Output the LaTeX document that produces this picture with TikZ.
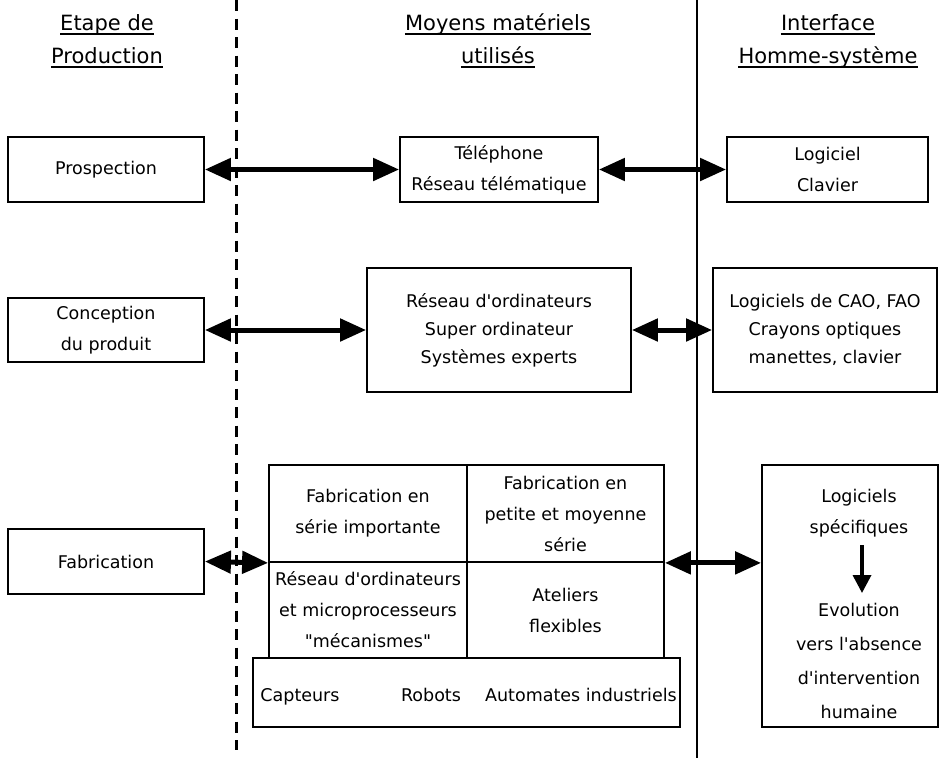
\documentclass[tikz,border=0pt]{standalone}
\usepackage{fontspec}
\setmainfont{DejaVu Sans}[Ligatures=TeXOff]
\usetikzlibrary{arrows.meta}
\newcommand\bfnt{\fontsize{17.5}{31}\selectfont}
\newcommand\rfnt{\fontsize{17.5}{34}\selectfont}
\newcommand\hfnt{\fontsize{21}{25}\selectfont}
\begin{document}
\begin{tikzpicture}[x=1pt,y=-1pt,
  box/.style={draw,line width=1.8pt,inner sep=0pt,align=center,font=\bfnt},
  txt/.style={inner sep=0pt,align=center,font=\bfnt},
  hdr/.style={inner sep=0pt,anchor=base,font=\hfnt},
  uline/.style={line width=2pt},
  link/.style={line width=5pt,{Triangle[length=26pt,width=22pt]}-{Triangle[length=26pt,width=22pt]}},
  down/.style={line width=3.5pt,-{Triangle[length=18pt,width=18pt]}},
  sep1/.style={line width=3pt,dash pattern=on 11pt off 7.5pt},
  sep2/.style={line width=1.3pt},
]
\useasboundingbox (0,0) rectangle (942,758);

% column separators
\coordinate (d1) at (236,0);
\coordinate (d2) at (236,750);
\coordinate (s1) at (697,0);
\coordinate (s2) at (697,758);
\draw[sep1] (d1) -- (d2);
\draw[sep2] (s1) -- (s2);

% headers
\node[hdr] (h1a) at (107,30) {Etape de};
\node[hdr] (h1b) at (107,63) {Production};
\node[hdr] (h2a) at (498,30) {Moyens matériels};
\node[hdr] (h2b) at (498,63) {utilisés};
\node[hdr] (h3a) at (828,30) {Interface};
\node[hdr] (h3b) at (828,63) {Homme-système};
\foreach \h in {h1a,h1b,h2a,h2b,h3a,h3b}
  \draw[uline] ([yshift=-4pt]\h.base west) -- ([yshift=-4pt]\h.base east);

% row 1
\node[box,minimum width=196pt,minimum height=65pt] (pros) at (106,169.5) {Prospection};
\node[box,minimum width=198pt,minimum height=65pt] (tel) at (499,169.5) {Téléphone\\Réseau télématique};
\node[box,minimum width=201pt,minimum height=65pt] (logi) at (827.5,169.5) {Logiciel\\Clavier};
\draw[link] (pros.east) -- (tel.west);
\draw[link] (tel.east) -- (logi.west);

% row 2
\node[box,minimum width=196pt,minimum height=64pt] (conc) at (106,330) {Conception\\du produit};
\node[box,minimum width=264pt,minimum height=124pt,font=\fontsize{17.5}{28}\selectfont] (res) at (499,330) {Réseau d'ordinateurs\\Super ordinateur\\Systèmes experts};
\node[box,minimum width=224pt,minimum height=124pt,font=\fontsize{17.5}{28}\selectfont] (cao) at (825,330) {Logiciels de CAO, FAO\\Crayons optiques\\manettes, clavier};
\draw[link] (conc.east) -- (res.west);
\draw[link] (res.east) -- (cao.west);

% row 3
\node[box,minimum width=196pt,minimum height=65pt] (fab) at (106,561.5) {Fabrication};
\node[box,minimum width=198pt,minimum height=97pt] (c1) at (368,513.5) {Fabrication en\\série importante};
\node[box,minimum width=197pt,minimum height=97pt] (c2) at (565.5,513.5) {Fabrication en\\petite et moyenne\\série};
\node[box,minimum width=198pt,minimum height=96pt] (c3) at (368,610) {Réseau d'ordinateurs\\et microprocesseurs\\"mécanismes"};
\node[box,minimum width=197pt,minimum height=96pt] (c4) at (565.5,610) {Ateliers\\flexibles};
\node[box,minimum width=427pt,minimum height=69pt] (bot) at (466.5,692.5) {};
\node[txt,anchor=base] (cap) at (300,701) {Capteurs};
\node[txt,anchor=base] (rob) at (431,701) {Robots};
\node[txt,anchor=base] (aut) at (581,701) {Automates industriels};

\node[box,minimum width=176pt,minimum height=262pt] (rb) at (850,596) {};
\node[txt] (rbt) at (859,513.5) {Logiciels\\spécifiques};
\node[txt,font=\rfnt] (rbb) at (859,661) {Evolution\\vers l'absence\\d'intervention\\humaine};
\coordinate (a1) at (862,545);
\coordinate (a2) at (862,593);
\draw[down] (a1) -- (a2);

\draw[link] (fab.east) -- (c1.south west);
\draw[link] (c2.south east) -- (c2.south east -| rb.west);
\end{tikzpicture}
\end{document}
